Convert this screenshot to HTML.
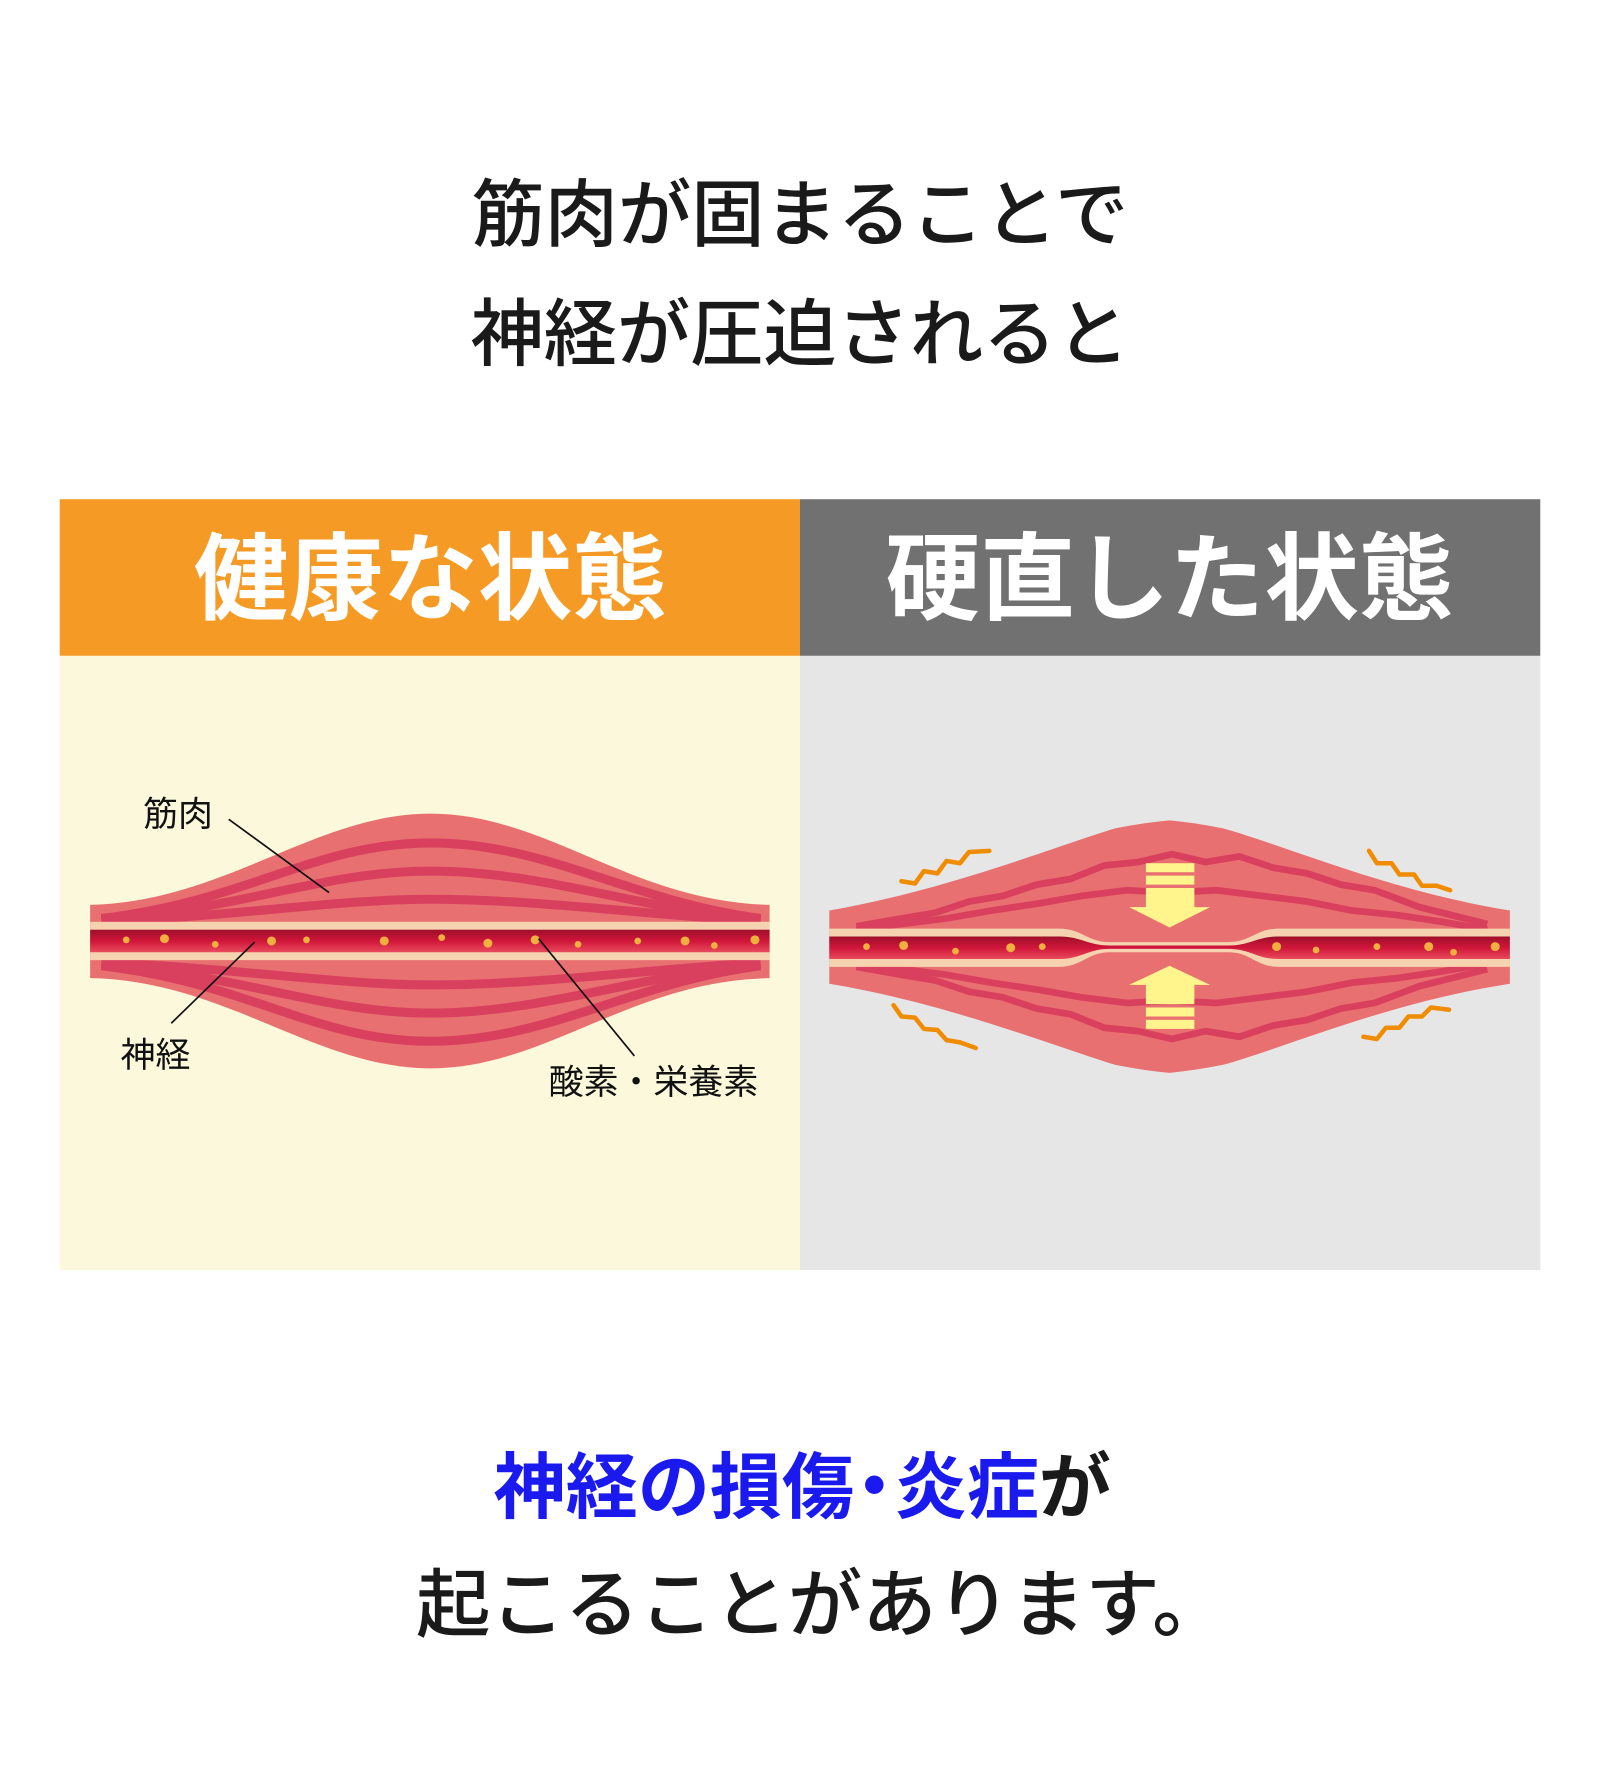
<!DOCTYPE html>
<html><head><meta charset="utf-8"><style>
html,body{margin:0;padding:0;background:#fff;}
svg{display:block;}
text{font-family:"Liberation Sans","Noto Sans CJK JP",sans-serif;}
</style></head><body>
<svg width="1600" height="1767" viewBox="0 0 1420 1568" preserveAspectRatio="none" xmlns="http://www.w3.org/2000/svg">
<defs>
<linearGradient id="ng" x1="0" y1="0" x2="0" y2="1">
<stop offset="0" stop-color="#9e0f2a"/><stop offset="0.5" stop-color="#d0163a"/><stop offset="1" stop-color="#e84a5c"/>
</linearGradient>
</defs>
<rect width="1420" height="1568" fill="#fff"/>
<text x="710" y="213" font-size="65" font-weight="500" text-anchor="middle" fill="#1a1a1a">筋肉が固まることで</text>
<text x="710" y="319" font-size="65" font-weight="500" text-anchor="middle" fill="#1a1a1a">神経が圧迫されると</text>

<rect x="53" y="443" width="657" height="139" fill="#F59B25"/>
<rect x="710" y="443" width="657" height="139" fill="#717171"/>
<rect x="53" y="582" width="657" height="545" fill="#FCF8DC"/>
<rect x="710" y="582" width="657" height="545" fill="#E6E6E6"/>
<text x="382" y="543" font-size="84" font-weight="700" text-anchor="middle" fill="#fff">健康な状態</text>
<text x="1038" y="543" font-size="84" font-weight="700" text-anchor="middle" fill="#fff">硬直した状態</text>

<!-- left muscle -->
<path d="M80,803 C200,800 280,722 382,722 C485,722 560,800 683,803 L683,868 C560,870 485,948 382,948 C280,948 200,870 80,868 Z" fill="#E97070"/>
<g fill="none" stroke="#D9405E" stroke-width="8">
<path d="M90,815 C220,800 280,748 382,748 C485,748 560,800 675,815"/>
<path d="M90,817 C220,805 290,773 382,773 C480,773 560,805 675,817"/>
<path d="M90,818 C220,812 300,798 382,798 C470,798 560,810 675,818"/>
<path d="M90,854 C220,860 300,874 382,874 C470,874 560,862 675,854"/>
<path d="M90,855 C220,867 290,899 382,899 C480,899 560,867 675,855"/>
<path d="M90,857 C220,872 280,924 382,924 C485,924 560,872 675,857"/>
</g>
<rect x="80" y="818" width="603" height="34" fill="#F6D3B0"/>
<rect x="80" y="825" width="603" height="20" fill="url(#ng)"/>
<g fill="#F0B040">
<ellipse cx="112" cy="834" rx="3" ry="3"/><ellipse cx="146" cy="833" rx="4" ry="4"/><ellipse cx="191" cy="838" rx="3" ry="3"/><ellipse cx="241" cy="835" rx="4" ry="4"/><ellipse cx="272" cy="834" rx="3" ry="3"/><ellipse cx="341" cy="835" rx="4" ry="4"/><ellipse cx="392" cy="832" rx="3" ry="3"/><ellipse cx="433" cy="837" rx="4" ry="4"/><ellipse cx="475" cy="834" rx="4" ry="4"/><ellipse cx="513" cy="838" rx="3" ry="3"/><ellipse cx="566" cy="835" rx="3" ry="3"/><ellipse cx="608" cy="835" rx="4" ry="4"/><ellipse cx="634" cy="839" rx="3" ry="3"/><ellipse cx="670" cy="834" rx="4" ry="4"/>
</g>
<g stroke="#111" stroke-width="1.5" fill="none">
<line x1="203" y1="727" x2="292" y2="792"/>
<line x1="152" y1="908" x2="226" y2="836"/>
<line x1="563" y1="937" x2="478" y2="833"/>
</g>
<text x="158" y="733" font-size="31" text-anchor="middle" fill="#111">筋肉</text>
<text x="138" y="947" font-size="31" text-anchor="middle" fill="#111">神経</text>
<text x="580" y="971" font-size="31" text-anchor="middle" fill="#111">酸素・栄養素</text>

<!-- right muscle -->
<path d="M736,808 C840,790 940,750 990,735 Q1015,730 1038,728 Q1060,730 1085,735 C1140,750 1230,790 1340,808 L1340,873 C1230,890 1140,930 1085,945 Q1060,950 1038,952 Q1015,950 990,945 C940,930 840,890 736,873 Z" fill="#E97070"/>
<g fill="none" stroke="#D9405E" stroke-width="6" stroke-linejoin="round">
<polyline points="760,822 800,815 830,810 860,800 890,795 920,785 950,780 980,768 1010,765 1040,758 1070,765 1100,760 1130,770 1160,775 1190,785 1220,790 1260,805 1320,820"/>
<polyline points="760,825 800,820 840,815 880,808 920,802 960,795 1000,790 1040,792 1080,790 1120,795 1160,800 1200,808 1240,812 1280,818 1320,825"/>
<polyline points="760,852 800,860 840,865 880,872 920,878 960,885 1000,890 1040,888 1080,890 1120,885 1160,880 1200,872 1240,868 1280,862 1320,855"/>
<polyline points="760,858 800,865 830,870 860,880 890,885 920,895 950,900 980,912 1010,915 1040,922 1070,915 1100,920 1130,910 1160,905 1190,895 1220,890 1260,875 1320,860"/>
</g>
<path d="M736,824 L940,824 C960,824 965,836 985,836 L1090,836 C1110,836 1115,824 1135,824 L1340,824 L1340,858 L1135,858 C1115,858 1110,845 1090,845 L985,845 C965,845 960,858 940,858 L736,858 Z" fill="#F6D3B0"/>
<path d="M736,831 L940,831 C960,831 965,839 985,839 L1090,839 C1110,839 1115,831 1135,831 L1340,831 L1340,851 L1135,851 C1115,851 1110,842 1090,842 L985,842 C965,842 960,851 940,851 L736,851 Z" fill="url(#ng)"/>
<g fill="#F0B040">
<ellipse cx="769" cy="840" rx="3" ry="3"/><ellipse cx="802" cy="839" rx="4" ry="4"/><ellipse cx="848" cy="844" rx="3" ry="3"/><ellipse cx="897" cy="841" rx="4" ry="4"/><ellipse cx="925" cy="840" rx="3" ry="3"/><ellipse cx="1133" cy="840" rx="4" ry="4"/><ellipse cx="1168" cy="843" rx="3" ry="3"/><ellipse cx="1222" cy="840" rx="3" ry="3"/><ellipse cx="1268" cy="840" rx="4" ry="4"/><ellipse cx="1290" cy="845" rx="3" ry="3"/><ellipse cx="1327" cy="840" rx="4" ry="4"/>
</g>
<g fill="#FFF58C">
<rect x="1017" y="766" width="43" height="8"/><rect x="1017" y="777" width="43" height="8"/>
<path d="M1017,788 H1060 V805 H1074 L1038,823 L1002,805 H1017 Z"/>
<rect x="1017" y="905" width="43" height="8"/><rect x="1017" y="894" width="43" height="8"/>
<path d="M1017,891 H1060 V874 H1074 L1038,857 L1002,874 H1017 Z"/>
</g>
<g fill="none" stroke="#F08C00" stroke-width="4" stroke-linecap="round" stroke-linejoin="round">
<polyline points="800,782 812,784 820,773 832,775 840,764 852,766 860,756 878,755"/>
<polyline points="1215,755 1222,766 1235,766 1242,776 1255,776 1262,786 1275,786 1287,790"/>
<polyline points="793,892 800,902 812,903 820,913 832,914 840,923 852,925 866,930"/>
<polyline points="1210,920 1222,922 1230,912 1242,912 1250,902 1262,902 1270,894 1286,896"/>
</g>

<text x="712" y="1342" font-size="64" font-weight="700" text-anchor="middle"><tspan fill="#1a1aee">神経の損傷</tspan><tspan fill="#1a1aee" dx="-14">・</tspan><tspan fill="#1a1aee" dx="-14">炎症</tspan><tspan fill="#1a1a1a">が</tspan></text>
<text x="729" y="1447" font-size="66" font-weight="500" text-anchor="middle" fill="#1a1a1a">起こることがあります。</text>
</svg>
</body></html>
